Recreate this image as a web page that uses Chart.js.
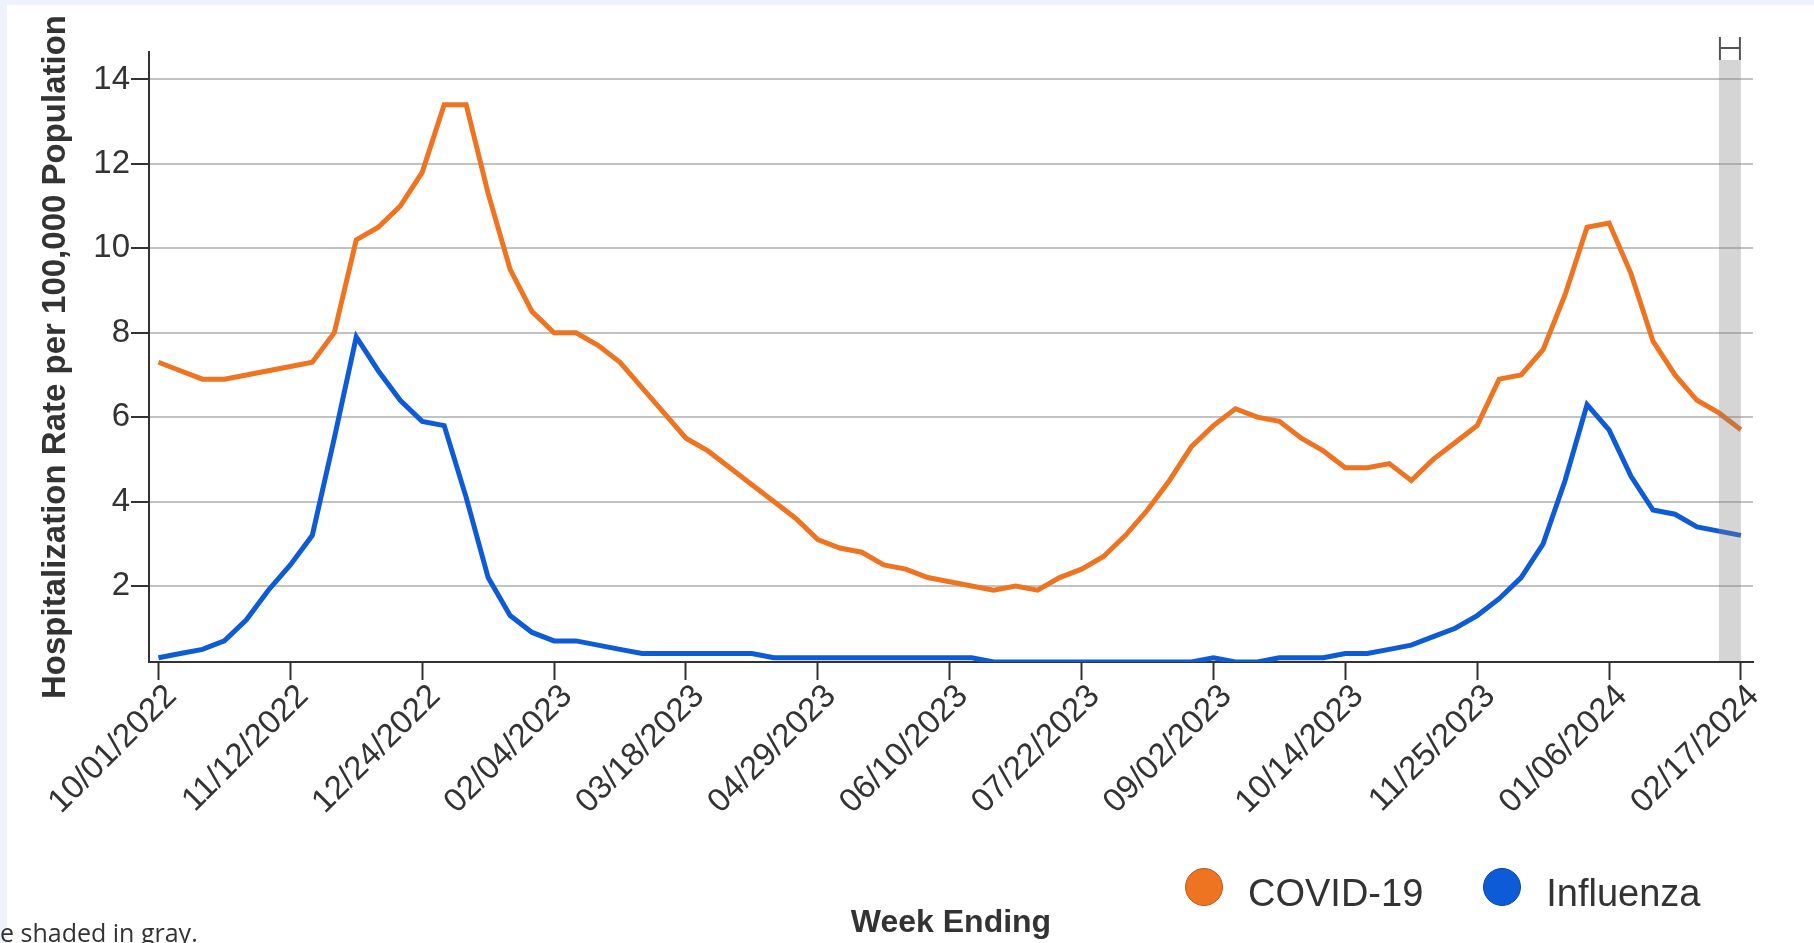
<!DOCTYPE html>
<html>
<head>
<meta charset="utf-8">
<title>Hospitalization Rate per 100,000 Population</title>
<script src="https://cdn.jsdelivr.net/npm/chart.js@4.4.1/dist/chart.umd.min.js"></script>
<style>
  html, body { margin: 0; padding: 0; }
  body {
    width: 1814px; height: 943px; overflow: hidden; position: relative;
    background: #edf2fc;
    font-family: "Liberation Sans", Arial, sans-serif;
  }
  .panel { position: absolute; left: 7px; top: 5px; right: 0; bottom: 0; background: #fff; }
  #chart { position: absolute; left: 0; top: 0; }
  .legend { position: absolute; left: 1185px; top: 868px; display: flex; align-items: center; }
  .legend-item { display: flex; align-items: center; margin-right: 60px; }
  .legend-dot { width: 36px; height: 36px; border-radius: 50%; border: 1px solid; }
  .legend-text { margin-left: 25px; font-size: 38px; line-height: 38px; color: #333; position: relative; top: 6px; }
  .note { position: absolute; left: 0; top: 920px; font-family: "Open Sans", sans-serif; font-size: 25px; line-height: 25px; color: #333; white-space: nowrap; }
</style>
</head>
<body>
<div class="panel"></div>
<canvas id="chart" width="1814" height="943"></canvas>
<div class="legend" id="legend"></div>
<div class="note">e shaded in gray.</div>

<script>
// week index 0 = week ending 10/01/2022, one point per week through 02/17/2024
const tickLabels = ['10/01/2022', '11/12/2022', '12/24/2022', '02/04/2023', '03/18/2023', '04/29/2023',
  '06/10/2023', '07/22/2023', '09/02/2023', '10/14/2023', '11/25/2023', '01/06/2024', '02/17/2024'];
const tickWeeks = [0, 6, 12, 18, 24, 30, 36, 42, 48, 54, 60, 66, 72];
const yTicks = [2, 4, 6, 8, 10, 12, 14];
const shadeWeeks = [71, 72];

const covid = [
  7.3, 7.1, 6.9, 6.9, 7.0, 7.1, 7.2, 7.3, 8.0, 10.2,
  10.5, 11.0, 11.8, 13.4, 13.4, 11.3, 9.5, 8.5, 8.0, 8.0,
  7.7, 7.3, 6.7, 6.1, 5.5, 5.2, 4.8, 4.4, 4.0, 3.6,
  3.1, 2.9, 2.8, 2.5, 2.4, 2.2, 2.1, 2.0, 1.9, 2.0,
  1.9, 2.2, 2.4, 2.7, 3.2, 3.8, 4.5, 5.3, 5.8, 6.2,
  6.0, 5.9, 5.5, 5.2, 4.8, 4.8, 4.9, 4.5, 5.0, 5.4,
  5.8, 6.9, 7.0, 7.6, 8.9, 10.5, 10.6, 9.4, 7.8, 7.0,
  6.4, 6.1, 5.7
];
const influenza = [
  0.3, 0.4, 0.5, 0.7, 1.2, 1.9, 2.5, 3.2, 5.5, 7.9,
  7.1, 6.4, 5.9, 5.8, 4.1, 2.2, 1.3, 0.9, 0.7, 0.7,
  0.6, 0.5, 0.4, 0.4, 0.4, 0.4, 0.4, 0.4, 0.3, 0.3,
  0.3, 0.3, 0.3, 0.3, 0.3, 0.3, 0.3, 0.3, 0.2, 0.2,
  0.2, 0.2, 0.2, 0.2, 0.2, 0.2, 0.2, 0.2, 0.3, 0.2,
  0.2, 0.3, 0.3, 0.3, 0.4, 0.4, 0.5, 0.6, 0.8, 1.0,
  1.3, 1.7, 2.2, 3.0, 4.5, 6.3, 5.7, 4.6, 3.8, 3.7,
  3.4, 3.3, 3.2
];

const toPoints = arr => arr.map((v, i) => ({ x: i, y: v }));

// gray band for the latest (incomplete) week, drawn over the lines, with the bracket on top
const shadePlugin = {
  id: 'shade',
  afterDatasetsDraw(chart) {
    const { ctx, chartArea, scales: { x } } = chart;
    const x0 = x.getPixelForValue(shadeWeeks[0]);
    const x1 = x.getPixelForValue(shadeWeeks[1]);
    ctx.save();
    ctx.fillStyle = 'rgba(128,128,128,0.33)';
    ctx.fillRect(x0, chartArea.top + 8, x1 - x0, chartArea.bottom - chartArea.top - 9);
    ctx.strokeStyle = '#555';
    ctx.lineWidth = 2;
    ctx.beginPath();
    ctx.moveTo(x0 + 1, chartArea.top - 15); ctx.lineTo(x0 + 1, chartArea.top + 8);
    ctx.moveTo(x1 - 1, chartArea.top - 15); ctx.lineTo(x1 - 1, chartArea.top + 8);
    ctx.moveTo(x0 + 1, chartArea.top - 4); ctx.lineTo(x1 - 1, chartArea.top - 4);
    ctx.stroke();
    ctx.restore();
  }
};

const chart = new Chart(document.getElementById('chart'), {
  type: 'line',
  data: {
    datasets: [
      { label: 'COVID-19', data: toPoints(covid), borderColor: '#ee7421', backgroundColor: '#ee7421', dotBorder: '#b85a1a' },
      { label: 'Influenza', data: toPoints(influenza), borderColor: '#0d5bd7', backgroundColor: '#0d5bd7', dotBorder: '#0a45a8' }
    ]
  },
  options: {
    responsive: false,
    animation: false,
    devicePixelRatio: 1,
    layout: { padding: { left: 0, right: 61, top: 52, bottom: 0 } },
    elements: {
      line: { borderWidth: 5, tension: 0 },
      point: { radius: 0, hoverRadius: 0 }
    },
    plugins: { legend: { display: false }, tooltip: { enabled: false } },
    scales: {
      x: {
        type: 'linear',
        min: -0.43,
        max: 72.55,
        afterBuildTicks: s => { s.ticks = tickWeeks.map(v => ({ value: v })); },
        afterFit: s => { s.height = 281; },
        ticks: {
          autoSkip: false,
          minRotation: 45,
          maxRotation: 45,
          padding: -3,
          labelOffset: 13,
          color: '#333',
          font: { family: '"Liberation Sans", Arial, sans-serif', size: 33 },
          callback: (v, i) => tickLabels[i]
        },
        grid: { drawOnChartArea: false, drawTicks: true, tickLength: 18, tickColor: '#333', tickWidth: 2 },
        border: { color: '#333', width: 2 },
        title: {
          display: true,
          text: 'Week Ending',
          color: '#333',
          font: { family: '"Liberation Sans", Arial, sans-serif', size: 32, weight: 'bold' },
          padding: { top: 0, bottom: 1 }
        }
      },
      y: {
        min: 0.2,
        max: 14.65,
        afterBuildTicks: s => { s.ticks = yTicks.map(v => ({ value: v })); },
        afterFit: s => { s.width = 149; },
        ticks: {
          padding: 1,
          color: '#333',
          font: { family: '"Liberation Sans", Arial, sans-serif', size: 33 }
        },
        grid: { color: '#c2c2c2', lineWidth: 2, tickLength: 18, tickColor: '#333', tickWidth: 2 },
        border: { color: '#333', width: 2 },
        title: {
          display: true,
          text: 'Hospitalization Rate per 100,000 Population',
          color: '#333',
          font: { family: '"Liberation Sans", Arial, sans-serif', size: 33, weight: 'bold' },
          padding: { top: 36, bottom: 0 }
        }
      }
    }
  },
  plugins: [shadePlugin]
});

// legend built from the datasets
const legendEl = document.getElementById('legend');
chart.data.datasets.forEach(ds => {
  const item = document.createElement('div');
  item.className = 'legend-item';
  const dot = document.createElement('div');
  dot.className = 'legend-dot';
  dot.style.background = ds.backgroundColor;
  dot.style.borderColor = ds.dotBorder;
  const txt = document.createElement('span');
  txt.className = 'legend-text';
  txt.textContent = ds.label;
  item.appendChild(dot);
  item.appendChild(txt);
  legendEl.appendChild(item);
});
</script>
</body>
</html>
